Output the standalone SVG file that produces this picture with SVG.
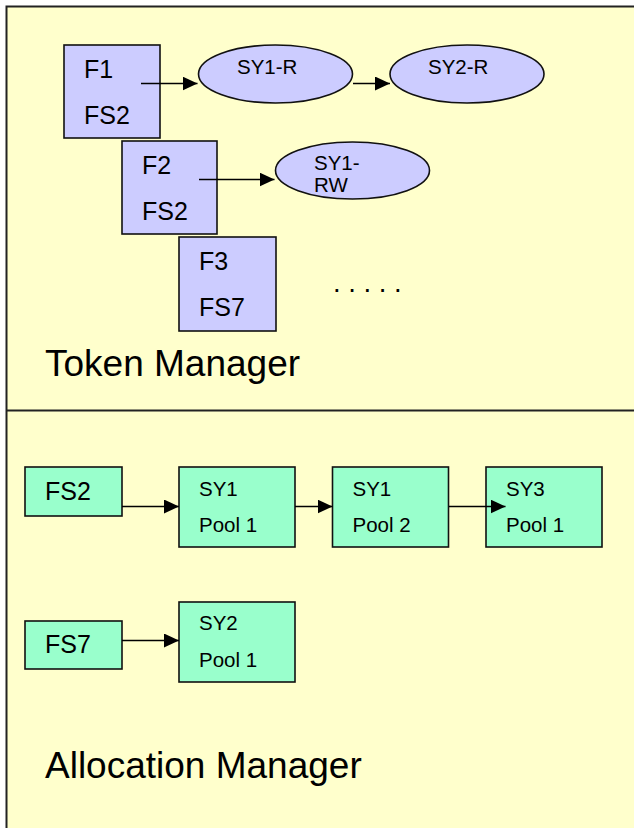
<svg xmlns="http://www.w3.org/2000/svg" width="634" height="828" viewBox="0 0 634 828">
  <defs>
    <style>
      .frame { fill: #FFFFCC; stroke: #222; stroke-width: 2; }
      .token { fill: #CCCCFF; stroke: #111; stroke-width: 1.6; }
      .alloc { fill: #99FFCC; stroke: #111; stroke-width: 1.6; }
      .edge { stroke: #000; stroke-width: 1.5; fill: none; marker-end: url(#arrow); }
      text { font-family: "Liberation Sans", Arial, sans-serif; fill: #000; }
      .big { font-size: 25px; }
      .small { font-size: 20.5px; }
      .title { font-size: 37px; }
    </style>
    <marker id="arrow" viewBox="0 0 15 14" refX="15" refY="7" markerUnits="userSpaceOnUse" markerWidth="15" markerHeight="14" orient="auto">
      <path d="M0,0 L15,7 L0,14 Z" fill="#000"/>
    </marker>
  </defs>

  <rect width="634" height="828" fill="#FFFFFF"/>
  <!-- outer frame, open to the right and bottom -->
  <rect class="frame" x="6.5" y="6.5" width="640" height="830"/>
  <line x1="6.5" y1="410.5" x2="640" y2="410.5" stroke="#222" stroke-width="2"/>

  <!-- Token Manager section -->
  <g id="F1">
    <rect class="token" x="64" y="45" width="96" height="93"/>
    <text class="big" x="84" y="78">F1</text>
    <text class="big" x="84" y="124">FS2</text>
  </g>
  <g id="F2">
    <rect class="token" x="122" y="141" width="95" height="93"/>
    <text class="big" x="142" y="174">F2</text>
    <text class="big" x="142" y="220">FS2</text>
  </g>
  <g id="F3">
    <rect class="token" x="179" y="237" width="97" height="94"/>
    <text class="big" x="199" y="270">F3</text>
    <text class="big" x="199" y="316">FS7</text>
  </g>
  <g id="SY1-R">
    <ellipse class="token" cx="275.5" cy="74" rx="77" ry="29"/>
    <text class="small" x="237" y="74">SY1-R</text>
  </g>
  <g id="SY2-R">
    <ellipse class="token" cx="467" cy="74" rx="77" ry="29"/>
    <text class="small" x="428" y="74">SY2-R</text>
  </g>
  <g id="SY1-RW">
    <ellipse class="token" cx="352.5" cy="170.5" rx="77" ry="28.5"/>
    <text class="small" x="314" y="170">SY1-</text>
    <text class="small" x="314" y="192">RW</text>
  </g>
  <text id="more" x="333" y="292" font-size="27.5">. . . . .</text>
  <text id="token-manager" class="title" x="45" y="376">Token Manager</text>

  <!-- Allocation Manager section -->
  <g id="FS2">
    <rect class="alloc" x="25" y="467" width="97" height="49"/>
    <text class="big" x="45" y="500">FS2</text>
  </g>
  <g id="SY1-Pool1">
    <rect class="alloc" x="179" y="467" width="116" height="80"/>
    <text class="small" x="199" y="496">SY1</text>
    <text class="small" x="199" y="532">Pool 1</text>
  </g>
  <g id="SY1-Pool2">
    <rect class="alloc" x="332.5" y="467" width="116" height="80"/>
    <text class="small" x="352.5" y="496">SY1</text>
    <text class="small" x="352.5" y="532">Pool 2</text>
  </g>
  <g id="SY3-Pool1">
    <rect class="alloc" x="486" y="467" width="116" height="80"/>
    <text class="small" x="506" y="496">SY3</text>
    <text class="small" x="506" y="532">Pool 1</text>
  </g>
  <g id="FS7">
    <rect class="alloc" x="25" y="621" width="97" height="48"/>
    <text class="big" x="45" y="653">FS7</text>
  </g>
  <g id="SY2-Pool1">
    <rect class="alloc" x="179" y="602" width="116" height="80"/>
    <text class="small" x="199" y="630">SY2</text>
    <text class="small" x="199" y="667">Pool 1</text>
  </g>
  <text id="allocation-manager" class="title" x="45" y="778">Allocation Manager</text>

  <!-- connectors -->
  <g id="connectors">
    <line class="edge" x1="141" y1="83.5" x2="197.5" y2="83.5"/>
    <line class="edge" x1="353" y1="83.5" x2="390" y2="83.5"/>
    <line class="edge" x1="199" y1="179.5" x2="274.5" y2="179.5"/>
    <line class="edge" x1="122" y1="506.5" x2="179" y2="506.5"/>
    <line class="edge" x1="295" y1="506.5" x2="332.5" y2="506.5"/>
    <line class="edge" x1="449" y1="506.5" x2="505.5" y2="506.5"/>
    <line class="edge" x1="122" y1="640.5" x2="179" y2="640.5"/>
  </g>
</svg>
